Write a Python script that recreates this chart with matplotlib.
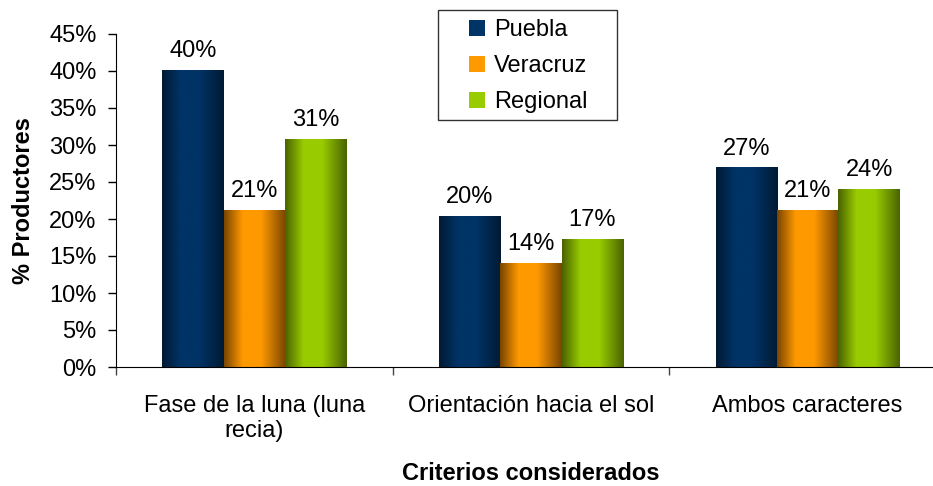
import matplotlib
matplotlib.use("Agg")
import matplotlib.pyplot as plt
from matplotlib.colors import LinearSegmentedColormap
from matplotlib.patches import Patch, Rectangle
from matplotlib.legend_handler import HandlerPatch
import numpy as np

categories = ["Fase de la luna (luna\nrecia)", "Orientación hacia el sol", "Ambos caracteres"]
series = ["Puebla", "Veracruz", "Regional"]
puebla = [40.1, 20.3, 26.9]
veracruz = [21.2, 14.0, 21.2]
regional = [30.8, 17.2, 24.0]
yticks = [0, 5, 10, 15, 20, 25, 30, 35, 40, 45]

# (edge, centre) colours for the cylinder-like shading
shades = [("#001a33", "#003366"), ("#7a4500", "#ff9900"), ("#4a6300", "#99cc00")]

plt.rcParams["font.family"] = ["Liberation Sans", "DejaVu Sans"]
FS = 17

fig = plt.figure(figsize=(9.33, 4.86), dpi=100)
ax = fig.add_axes([116/933, 1-367/486, 830/933, 333/486])

x = np.arange(len(categories))
w = 0.222
grad = np.linspace(0, 1, 200).reshape(1, -1)
handles = []
for k, (name, vals) in enumerate(zip(series, [puebla, veracruz, regional])):
    edge, mid = shades[k]
    cmap = LinearSegmentedColormap.from_list(
        name, [(0, edge), (0.3, mid), (0.6, mid), (1, edge)])
    pos = x + (k - 1) * w
    bars = ax.bar(pos, vals, w, color="none", edgecolor="none")
    for b, v in zip(bars, vals):
        x0 = b.get_x()
        ax.imshow(grad, cmap=cmap, aspect="auto", zorder=2,
                  extent=[x0, x0 + b.get_width(), 0, v])
        ax.annotate(f"{round(v)}%", (x0 + b.get_width()/2, v),
                    xytext=(0, 6), textcoords="offset points",
                    ha="center", va="bottom", fontsize=FS)
    handles.append(Patch(facecolor=mid, edgecolor="none", label=name))

ax.set_xlim(-0.5, 2.5)
ax.set_ylim(0, 45)
ax.set_yticks(yticks)
ax.set_yticklabels([f"{t}%" for t in yticks], fontsize=FS)
ax.set_xticks(x)
ax.set_xticklabels(categories, fontsize=FS, multialignment="center")
ax.set_xticks([-0.5, 0.5, 1.5], minor=True)
ax.tick_params(axis="x", which="major", length=0, pad=20)
ax.tick_params(axis="x", which="minor", length=5.5, width=1, color="#444444")
ax.tick_params(axis="y", length=6, width=1, pad=8)
for s in ["top", "right"]:
    ax.spines[s].set_visible(False)
ax.spines["left"].set_bounds(0, 45)

ax.set_ylabel("% Productores", fontsize=FS, fontweight="bold")
ax.yaxis.label.set_va("center")
ax.yaxis.set_label_coords((23 - 116)/830, 0.5)
ax.set_xlabel("Criterios considerados", fontsize=FS, fontweight="bold")
ax.xaxis.label.set_va("center")
ax.xaxis.set_label_coords((531 - 116)/830, -(474 - 367)/333)


def small_square(legend, orig_handle, xdescent, ydescent, width, height, fontsize):
    sq = 16 * 72 / 100
    return Rectangle((-xdescent + width - sq, -ydescent + (height - sq)/2), sq, sq)


# legend frame drawn by hand to get Excel-like padding
fig.patches.append(Rectangle((438/933, 1 - 120/486), 179/933, 110/486,
                             transform=fig.transFigure, fill=False,
                             edgecolor="#333333", linewidth=1, zorder=5))
leg = ax.legend(handles=handles, loc="upper left",
                bbox_to_anchor=(446/933, 1 - 19/486), bbox_transform=fig.transFigure,
                fontsize=FS, frameon=False, borderaxespad=0, borderpad=0,
                handlelength=1.65, handleheight=0.7, labelspacing=0.6,
                handletextpad=0.38,
                handler_map={Patch: HandlerPatch(patch_func=small_square)})

fig.savefig("out.png", dpi=100)
